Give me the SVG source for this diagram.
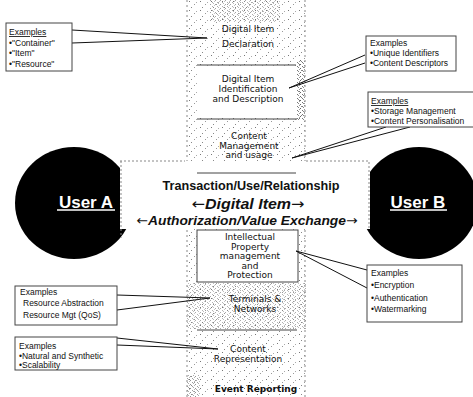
<svg xmlns="http://www.w3.org/2000/svg" width="473" height="397" viewBox="0 0 473 397">
<defs>
<pattern id="grain" width="11" height="9" patternUnits="userSpaceOnUse">
<rect x="2" y="1" width="1" height="1" fill="#777"/>
<rect x="7" y="4" width="1" height="1" fill="#999"/>
<rect x="4" y="7" width="1" height="1" fill="#888"/>
<rect x="9" y="2" width="1" height="1" fill="#aaa"/>
</pattern>
<pattern id="grain2" width="5" height="4" patternUnits="userSpaceOnUse">
<rect x="0" y="0" width="1" height="1" fill="#666"/>
<rect x="2" y="2" width="1" height="1" fill="#777"/>
<rect x="4" y="1" width="1" height="1" fill="#999"/>
<rect x="3" y="3" width="1" height="1" fill="#888"/>
</pattern>
<style>
.col{font-family:"DejaVu Sans",sans-serif;font-size:9px;fill:#111;text-anchor:middle}
.ex{font-family:"Liberation Sans",Arial,sans-serif;font-size:8.5px;fill:#111}
.box{fill:#fff;stroke:#444;stroke-width:1}
.wedge{fill:none;stroke:#111;stroke-width:1}
.sep{stroke:#444;stroke-width:1}
.user{font-family:"Liberation Sans",Arial,sans-serif;font-size:17px;font-weight:bold;fill:#fff;text-anchor:middle}
.band{font-family:"Liberation Sans",Arial,sans-serif;font-weight:bold;fill:#111;text-anchor:middle}
.arr{font-family:"DejaVu Sans",sans-serif;font-style:normal;font-weight:normal}
</style>
</defs>
<rect width="473" height="397" fill="#fff"/>

<g id="user-a">
<ellipse cx="74" cy="203" rx="59" ry="56" fill="#000"/>
<text class="user" x="86" y="208">User A</text>
<line x1="57" y1="210" x2="115" y2="210" stroke="#fff" stroke-width="1.5"/>
</g>
<g id="user-b">
<ellipse cx="419" cy="203" rx="59" ry="56" fill="#000"/>
<text class="user" x="418" y="208">User B</text>
<line x1="390" y1="210" x2="447" y2="210" stroke="#fff" stroke-width="1.5"/>
</g>

<g id="column">
<rect x="186" y="0" width="120" height="397" fill="#fff"/>
<rect x="186" y="0" width="120" height="397" fill="url(#grain)"/>
<rect x="210" y="0" width="70" height="22" fill="url(#grain2)" opacity="0.6"/>
<rect x="296" y="60" width="9" height="60" fill="url(#grain2)"/>
<rect x="186" y="283" width="120" height="46" fill="url(#grain2)" opacity="0.55"/>
<rect x="186" y="375" width="14" height="22" fill="url(#grain2)" opacity="0.7"/>
<line x1="187" y1="0" x2="187" y2="397" stroke="#888" stroke-width="1" stroke-dasharray="2 3"/>
<line x1="305" y1="0" x2="305" y2="397" stroke="#888" stroke-width="1" stroke-dasharray="2 3"/>
</g>

<g id="band">
<rect x="120" y="161" width="250" height="68" fill="#fff"/>
<path d="M121,161 V238 M120,161 H185 M306,161 H369 V230" fill="none" stroke="#888" stroke-width="1" stroke-dasharray="2 2"/>
<text class="band" x="251" y="190" font-size="12.5" textLength="177" lengthAdjust="spacingAndGlyphs">Transaction/Use/Relationship</text>
<text class="band" x="248" y="208.5" font-size="15" font-style="italic" textLength="113" lengthAdjust="spacingAndGlyphs"><tspan class="arr">←</tspan>Digital Item<tspan class="arr">→</tspan></text>
<text class="band" x="247" y="225" font-size="13" font-style="italic" textLength="221" lengthAdjust="spacingAndGlyphs"><tspan class="arr">←</tspan>Authorization/Value Exchange<tspan class="arr">→</tspan></text>
</g>

<g id="declaration">
<text class="col" x="248" y="32">Digital Item</text>
<text class="col" x="248" y="47">Declaration</text>
<line class="sep" x1="197" y1="65" x2="296" y2="65"/>
</g>
<g id="identification">
<rect x="197" y="66" width="99" height="52" fill="#fff"/>
<text class="col" x="248" y="82">Digital Item</text>
<text class="col" x="248" y="92">Identification</text>
<text class="col" x="248" y="102">and Description</text>
<line class="sep" x1="197" y1="119" x2="297" y2="119"/>
</g>
<g id="content-management">
<text class="col" x="249" y="139">Content</text>
<text class="col" x="249" y="148.5">Management</text>
<text class="col" x="249" y="158">and usage</text>
<line class="sep" x1="197" y1="173" x2="296" y2="173"/>
</g>
<g id="ipmp">
<rect class="box" x="197" y="230" width="101" height="52"/>
<text class="col" x="250" y="240">Intellectual</text>
<text class="col" x="250" y="249.5">Property</text>
<text class="col" x="250" y="259">management</text>
<text class="col" x="250" y="268.5">and</text>
<text class="col" x="250" y="278">Protection</text>
</g>
<g id="terminals">
<text class="col" x="255" y="302">Terminals &amp;</text>
<text class="col" x="255" y="311.5">Networks</text>
<line class="sep" x1="197" y1="330" x2="297" y2="330"/>
</g>
<g id="representation">
<text class="col" x="248" y="352">Content</text>
<text class="col" x="248" y="361.5">Representation</text>
</g>
<g id="event-reporting">
<text class="col" x="256" y="392" font-weight="bold" font-size="10">Event Reporting</text>
</g>

<g id="connectors">
<polyline class="wedge" points="72,30 207,38 72,43"/>
<polyline class="wedge" points="365,55 289,88 365,63"/>
<polyline class="wedge" points="386,127 292,158 410,127"/>
<polyline class="wedge" points="367,270 296,251 367,288"/>
<polyline class="wedge" points="117,295 210,298 117,310"/>
<polyline class="wedge" points="117,338 218,349 117,345"/>
</g>

<g id="ex-declaration">
<rect class="box" x="6" y="23" width="66" height="48"/>
<text class="ex" x="9" y="35" text-decoration="underline">Examples</text>
<text class="ex" x="9" y="45.5">•"Container"</text>
<text class="ex" x="9" y="56">•"Item"</text>
<text class="ex" x="9" y="66.5">•"Resource"</text>
</g>
<g id="ex-identification">
<rect class="box" x="366" y="36" width="90" height="35"/>
<text class="ex" x="370" y="46">Examples</text>
<text class="ex" x="370" y="56">•Unique Identifiers</text>
<text class="ex" x="370" y="66">•Content Descriptors</text>
</g>
<g id="ex-management">
<rect class="box" x="368" y="92" width="110" height="35"/>
<text class="ex" x="371" y="104" text-decoration="underline">Examples</text>
<text class="ex" x="371" y="114">•Storage Management</text>
<text class="ex" x="371" y="124">•Content Personalisation</text>
</g>
<g id="ex-ipmp">
<rect class="box" x="367" y="265" width="95" height="57"/>
<text class="ex" x="371" y="276">Examples</text>
<text class="ex" x="371" y="288">•Encryption</text>
<text class="ex" x="371" y="301">•Authentication</text>
<text class="ex" x="371" y="312">•Watermarking</text>
</g>
<g id="ex-terminals">
<rect class="box" x="15" y="286" width="102" height="39"/>
<text class="ex" x="20" y="295">Examples</text>
<text class="ex" x="23" y="305.5">Resource Abstraction</text>
<text class="ex" x="23" y="318">Resource Mgt  (QoS)</text>
</g>
<g id="ex-representation">
<rect class="box" x="15" y="337" width="102" height="33"/>
<text class="ex" x="19" y="348.5">Examples</text>
<text class="ex" x="19" y="358.5">•Natural and Synthetic</text>
<text class="ex" x="19" y="368">•Scalability</text>
</g>
</svg>
